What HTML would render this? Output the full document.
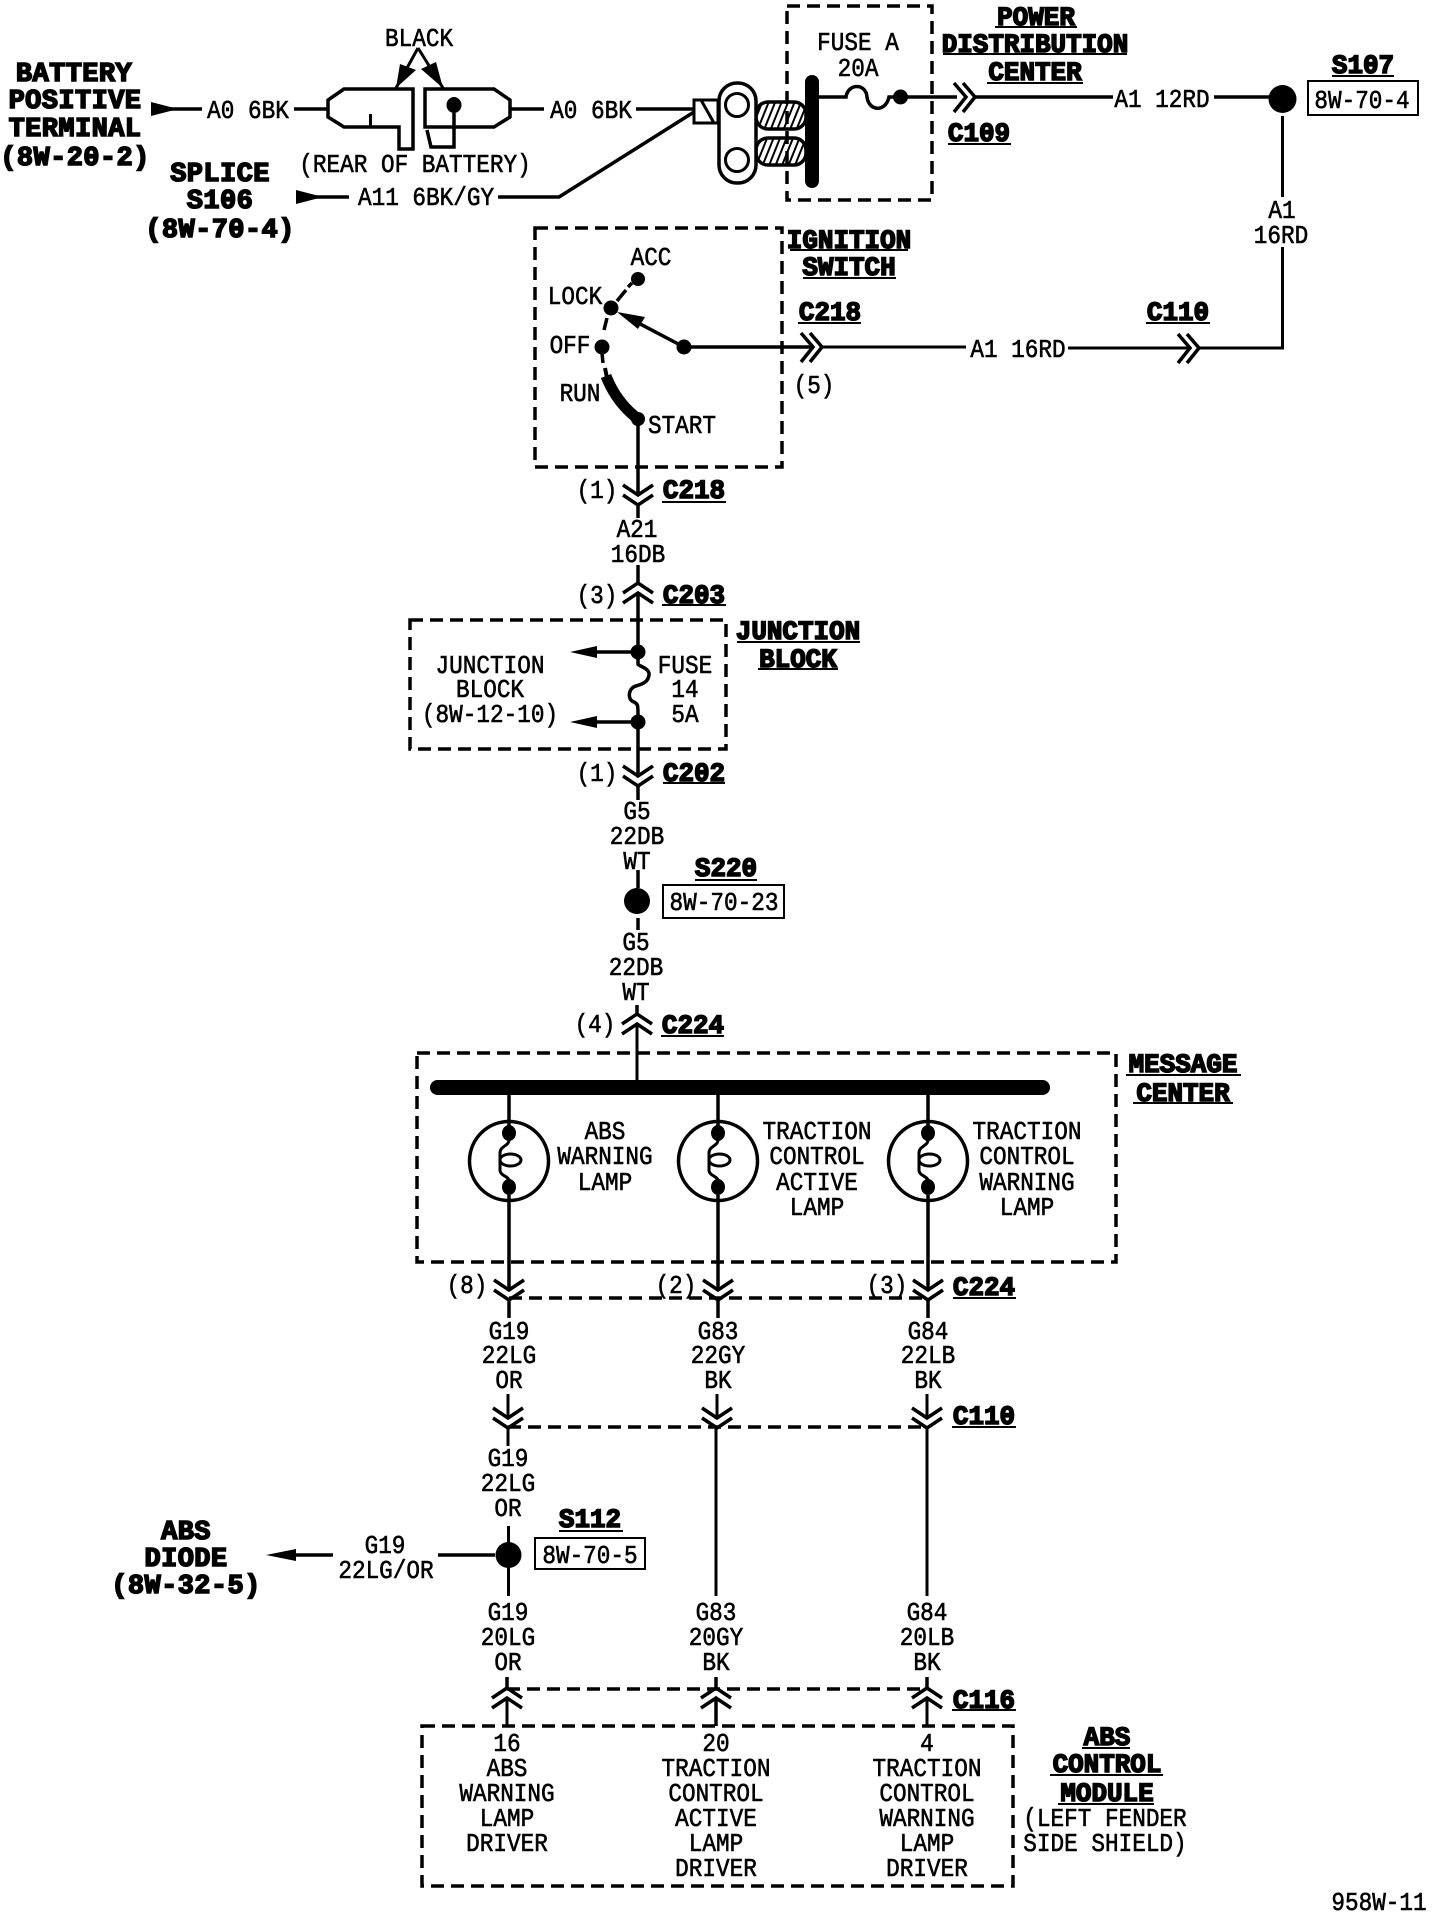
<!DOCTYPE html>
<html>
<head>
<meta charset="utf-8">
<title>Wiring diagram</title>
<style>
html,body{margin:0;padding:0;background:#fff}
svg{display:block}
text{font-family:"Liberation Mono",monospace;fill:#000;text-anchor:middle}
.t{font-size:25.5px;stroke:#000;stroke-width:.6px;transform-box:fill-box;transform-origin:center;transform:scaleX(.89)}
.b{font-size:27px;font-weight:bold;stroke:#000;stroke-width:1.6px;transform-box:fill-box;transform-origin:center;transform:scaleX(.96)}
.w{font-size:27px;font-weight:bold;letter-spacing:.4px;stroke:#000;stroke-width:1.6px}
.l{stroke:#000;stroke-width:3.5;fill:none}
.n{stroke:#000;stroke-width:3;fill:none}
.u{stroke:#000;stroke-width:2;fill:none}
.d{stroke:#000;stroke-width:3.5;fill:none;stroke-dasharray:13 7}
</style>
</head>
<body>
<svg width="1440" height="1918" viewBox="0 0 1440 1918" xmlns="http://www.w3.org/2000/svg">
<defs>
<pattern id="h" width="6" height="6" patternUnits="userSpaceOnUse" patternTransform="rotate(22)"><rect width="2" height="6" fill="#000"/></pattern>
<g id="dn" class="n"><path d="M-15 -10L0 0L15 -10M-15 0L0 10L15 0" stroke="#000" stroke-width="3.5" fill="none"/></g>
<g id="up"><path d="M-15 0L0 -10L15 0M-15 10L0 0L15 10" stroke="#000" stroke-width="3.5" fill="none"/></g>
<g id="rt"><path d="M-12 -14L0 0L-12 15M-3 -14L9 0L-3 15" stroke="#000" stroke-width="3.5" fill="none"/></g>
<g id="lamp">
<circle cx="0" cy="1161" r="39.5" fill="#fff" stroke="#000" stroke-width="3.5"/>
<line x1="0" y1="1095" x2="0" y2="1133" class="l"/>
<ellipse cx="0" cy="1133" rx="7" ry="8"/>
<ellipse cx="0" cy="1187" rx="7" ry="8"/>
<path d="M0 1140C0 1146 -9 1146 -9 1153V1170C-9 1176 0 1176 0 1181" class="n"/>
<ellipse cx="1.5" cy="1160" rx="10.5" ry="6" class="n"/>
</g>
</defs>
<rect width="1440" height="1918" fill="#fff"/>

<!-- dashed boxes -->
<rect x="787" y="6" width="145" height="194" class="d"/>
<rect x="535" y="228" width="247" height="239" class="d"/>
<rect x="410" y="620" width="316" height="129" class="d"/>
<rect x="417" y="1053" width="699" height="209" class="d"/>
<rect x="422" y="1726" width="591" height="160" class="d"/>
<line x1="509" y1="1298" x2="928" y2="1298" class="d"/>
<line x1="508" y1="1427" x2="927" y2="1427" class="d"/>
<line x1="507" y1="1689" x2="927" y2="1689" class="d"/>

<!-- battery terminal -->
<path d="M344 89L328 100V117L344 127H399V149H413V89Z" class="l"/>
<line x1="370.5" y1="114" x2="370.5" y2="127" class="n"/>
<path d="M425 89H494L510 100V117L494 127H425Z" class="l"/>
<path d="M427 130L431 147H454V113" class="l"/>
<ellipse cx="454" cy="105" rx="7.5" ry="8"/>
<path d="M418 48L396 88M418 48L443 88" class="n"/>
<polygon points="396,88 400,64 416,70"/>
<polygon points="443,88 421,69 436,62"/>
<line x1="294" y1="109" x2="328" y2="109" class="l"/>
<line x1="510" y1="109" x2="544" y2="109" class="l"/>
<polygon points="151,102 151,116 178,109"/>
<line x1="165" y1="109" x2="202" y2="109" class="l"/>
<polygon points="296,190 296,204 323,197"/>
<line x1="310" y1="197" x2="349" y2="197" class="l"/>
<line x1="636" y1="109" x2="694" y2="109" class="l"/>
<path d="M498 197H559L694 112" class="l"/>
<rect x="694" y="100" width="24" height="23" class="n"/>
<line x1="701" y1="100" x2="714" y2="123" class="n"/>

<!-- lug, studs, plate -->
<rect x="756" y="102" width="50" height="27" rx="12" fill="url(#h)" stroke="#000" stroke-width="3.5"/>
<rect x="756" y="138" width="50" height="27" rx="12" fill="url(#h)" stroke="#000" stroke-width="3.5"/>
<rect x="719" y="83" width="37" height="100" rx="18" fill="#fff" stroke="#000" stroke-width="3.5"/>
<circle cx="737" cy="105" r="11.5" fill="#fff" stroke="#000" stroke-width="3"/>
<circle cx="737" cy="160" r="11.5" fill="#fff" stroke="#000" stroke-width="3"/>
<rect x="805" y="75" width="14" height="113" rx="7"/>

<!-- fuse A & top wire -->
<path d="M819 97H846C848 83 866 83 867 97C869 112 886 112 889 97H957" class="l"/>
<circle cx="900.5" cy="97" r="7.5"/>
<use href="#rt" x="966" y="97"/>
<line x1="975" y1="97" x2="1113" y2="97" class="l"/>
<line x1="1214" y1="97" x2="1270" y2="97" class="l"/>
<circle cx="1282.5" cy="99" r="14"/>
<rect x="1308" y="81" width="110" height="34" class="u"/>
<line x1="1282.5" y1="116" x2="1282.5" y2="197" class="n"/>
<path d="M1282.5 247V348H1200" class="n"/>

<!-- ignition switch -->
<circle cx="638" cy="279" r="7"/>
<circle cx="611" cy="308" r="7.5"/>
<circle cx="602" cy="347" r="7.5"/>
<path d="M617 301L626 290M628 287L632 283M607 318L604 330M602 353L603 363" class="l"/>
<path d="M606 376Q616 402 638 419" stroke="#000" stroke-width="11" fill="none"/>
<path d="M605 368L607 378" stroke="#000" stroke-width="4" fill="none"/>
<circle cx="638" cy="419" r="7"/>
<circle cx="684" cy="347" r="7.5"/>
<line x1="684" y1="347" x2="625" y2="316" class="l"/>
<polygon points="617,312 645,317 638,329"/>
<line x1="684" y1="347" x2="813" y2="347" class="l"/>
<use href="#rt" x="813" y="347"/>
<line x1="822" y1="347" x2="966" y2="347" class="n"/>
<line x1="1068" y1="348" x2="1190" y2="348" class="n"/>
<use href="#rt" x="1190" y="348"/>

<!-- centre trunk -->
<line x1="638" y1="419" x2="638" y2="495" class="l"/>
<use href="#dn" x="638" y="495"/>
<line x1="638" y1="505" x2="638" y2="518" class="l"/>
<line x1="638" y1="565" x2="638" y2="583" class="l"/>
<use href="#up" x="638" y="593"/>
<line x1="638" y1="593" x2="638" y2="660" class="l"/>
<circle cx="638" cy="652" r="7.5"/>
<path d="M638 658V664C638 666 650 668 649 675C648 684 638 685 636 686C628 688 627 700 634 702C638 704 638 705 638 716" class="l"/>
<circle cx="638" cy="722" r="7.5"/>
<line x1="597" y1="652" x2="638" y2="652" class="l"/>
<polygon points="570,652 597,646 597,658"/>
<line x1="597" y1="722" x2="638" y2="722" class="l"/>
<polygon points="570,722 597,716 597,728"/>
<line x1="638" y1="722" x2="638" y2="776" class="l"/>
<use href="#dn" x="638" y="776"/>
<line x1="638" y1="786" x2="638" y2="800" class="l"/>
<line x1="638" y1="870" x2="638" y2="888" class="l"/>
<circle cx="637" cy="901" r="13"/>
<line x1="638" y1="918" x2="638" y2="930" class="l"/>
<rect x="663" y="885" width="121" height="33" class="u"/>
<line x1="637" y1="1005" x2="637" y2="1014" class="l"/>
<use href="#up" x="637" y="1024"/>
<line x1="637" y1="1024" x2="637" y2="1082" class="n"/>

<!-- bus & lamps -->
<rect x="430" y="1080" width="620" height="15" rx="7.5"/>
<use href="#lamp" x="509"/>
<use href="#lamp" x="718"/>
<use href="#lamp" x="928"/>
<line x1="509" y1="1195" x2="509" y2="1290" class="l"/>
<line x1="718" y1="1195" x2="718" y2="1290" class="l"/>
<line x1="928" y1="1195" x2="928" y2="1290" class="l"/>
<use href="#dn" x="509" y="1290"/>
<use href="#dn" x="718" y="1290"/>
<use href="#dn" x="928" y="1290"/>
<line x1="509" y1="1300" x2="509" y2="1318" class="l"/>
<line x1="718" y1="1300" x2="718" y2="1318" class="l"/>
<line x1="928" y1="1300" x2="928" y2="1318" class="l"/>

<!-- C110 -->
<line x1="508" y1="1394" x2="508" y2="1418" class="n"/>
<line x1="717" y1="1394" x2="717" y2="1418" class="n"/>
<line x1="927" y1="1394" x2="927" y2="1418" class="n"/>
<use href="#dn" x="508" y="1418"/>
<use href="#dn" x="717" y="1418"/>
<use href="#dn" x="927" y="1418"/>
<line x1="508" y1="1428" x2="508" y2="1446" class="n"/>
<line x1="716" y1="1428" x2="716" y2="1596" class="n"/>
<line x1="927" y1="1428" x2="927" y2="1596" class="n"/>

<!-- S112 -->
<line x1="508.5" y1="1526" x2="508.5" y2="1596" class="n"/>
<circle cx="508.5" cy="1555" r="13"/>
<rect x="535" y="1538" width="110" height="31" class="u"/>
<line x1="438" y1="1555" x2="495" y2="1555" class="l"/>
<line x1="290" y1="1555" x2="333" y2="1555" class="l"/>
<polygon points="266,1555 296,1549 296,1561"/>

<!-- C116 -->
<line x1="507" y1="1677" x2="507" y2="1688" class="l"/>
<line x1="716" y1="1677" x2="716" y2="1688" class="l"/>
<line x1="927" y1="1677" x2="927" y2="1688" class="l"/>
<use href="#up" x="507" y="1698"/>
<use href="#up" x="716" y="1698"/>
<use href="#up" x="927" y="1698"/>
<line x1="507" y1="1698" x2="507" y2="1726" class="n"/>
<line x1="716" y1="1698" x2="716" y2="1726" class="l"/>
<line x1="927" y1="1698" x2="927" y2="1726" class="n"/>

<!-- underlines -->
<path class="u" d="M995 27H1077M943 54H1127M987 83H1083M948 144H1011M1332 76H1394M790 250H908M803 278H896M798 323H861M1146 323H1210M662 502H726M662 605H726M663 783H725M737 642H860M758 669H838M695 880H757M661 1036H724M1126 1075H1241M1133 1103H1233M953 1298H1016M952 1427H1016M559 1531H623M952 1710H1016M1082 1748H1130M1050 1775H1163M1058 1804H1154"/>

<!-- bold labels -->
<text class="w" x="74" y="81">BATTERY</text>
<text class="w" x="75" y="108">POSITIVE</text>
<text class="w" x="75" y="136">TERMINAL</text>
<text class="w" x="75" y="165">(8W-20-2)</text>
<text class="w" x="220" y="181">SPLICE</text>
<text class="w" x="220" y="208">S106</text>
<text class="w" x="220" y="237">(8W-70-4)</text>
<text class="b" x="1036" y="25">POWER</text>
<text class="b" x="1035" y="52">DISTRIBUTION</text>
<text class="b" x="1035" y="80">CENTER</text>
<text class="b" x="979" y="141">C109</text>
<text class="b" x="1363" y="73">S107</text>
<text class="b" x="849" y="248">IGNITION</text>
<text class="b" x="849" y="275">SWITCH</text>
<text class="b" x="830" y="320">C218</text>
<text class="b" x="1178" y="320">C110</text>
<text class="b" x="694" y="498">C218</text>
<text class="b" x="694" y="603">C203</text>
<text class="b" x="798" y="639">JUNCTION</text>
<text class="b" x="798" y="667">BLOCK</text>
<text class="b" x="694" y="781">C202</text>
<text class="b" x="726" y="876">S220</text>
<text class="b" x="693" y="1033">C224</text>
<text class="b" x="1183" y="1072">MESSAGE</text>
<text class="b" x="1183" y="1101">CENTER</text>
<text class="b" x="984" y="1295">C224</text>
<text class="b" x="984" y="1424">C110</text>
<text class="b" x="590" y="1527">S112</text>
<text class="w" x="186" y="1539">ABS</text>
<text class="w" x="186" y="1566">DIODE</text>
<text class="w" x="186" y="1593">(8W-32-5)</text>
<text class="b" x="984" y="1708">C116</text>
<text class="b" x="1107" y="1745">ABS</text>
<text class="b" x="1107" y="1772">CONTROL</text>
<text class="b" x="1107" y="1801">MODULE</text>

<!-- regular labels -->
<text class="t" x="419" y="46">BLACK</text>
<text class="t" x="248" y="118">A0 6BK</text>
<text class="t" x="591" y="118">A0 6BK</text>
<text class="t" x="415" y="172">(REAR OF BATTERY)</text>
<text class="t" x="426" y="205">A11 6BK/GY</text>
<text class="t" x="858" y="50">FUSE A</text>
<text class="t" x="858" y="76">20A</text>
<text class="t" x="1162" y="107">A1 12RD</text>
<text class="t" x="1362" y="108">8W-70-4</text>
<text class="t" x="1282" y="218">A1</text>
<text class="t" x="1281" y="243">16RD</text>
<text class="t" x="651" y="265">ACC</text>
<text class="t" x="575" y="304">LOCK</text>
<text class="t" x="570" y="353">OFF</text>
<text class="t" x="580" y="401">RUN</text>
<text class="t" x="682" y="433">START</text>
<text class="t" x="814" y="393">(5)</text>
<text class="t" x="1018" y="357">A1 16RD</text>
<text class="t" x="597" y="498">(1)</text>
<text class="t" x="637" y="537">A21</text>
<text class="t" x="638" y="562">16DB</text>
<text class="t" x="597" y="603">(3)</text>
<text class="t" x="490" y="673">JUNCTION</text>
<text class="t" x="490" y="697">BLOCK</text>
<text class="t" x="490" y="722">(8W-12-10)</text>
<text class="t" x="685" y="673">FUSE</text>
<text class="t" x="685" y="697">14</text>
<text class="t" x="685" y="722">5A</text>
<text class="t" x="597" y="781">(1)</text>
<text class="t" x="637" y="819">G5</text>
<text class="t" x="637" y="844">22DB</text>
<text class="t" x="637" y="869">WT</text>
<text class="t" x="724" y="910">8W-70-23</text>
<text class="t" x="636" y="950">G5</text>
<text class="t" x="636" y="975">22DB</text>
<text class="t" x="636" y="1000">WT</text>
<text class="t" x="595" y="1032">(4)</text>
<text class="t" x="605" y="1139">ABS</text>
<text class="t" x="605" y="1164">WARNING</text>
<text class="t" x="605" y="1190">LAMP</text>
<text class="t" x="817" y="1139">TRACTION</text>
<text class="t" x="817" y="1164">CONTROL</text>
<text class="t" x="817" y="1190">ACTIVE</text>
<text class="t" x="817" y="1215">LAMP</text>
<text class="t" x="1027" y="1139">TRACTION</text>
<text class="t" x="1027" y="1164">CONTROL</text>
<text class="t" x="1027" y="1190">WARNING</text>
<text class="t" x="1027" y="1215">LAMP</text>
<text class="t" x="467" y="1293">(8)</text>
<text class="t" x="676" y="1293">(2)</text>
<text class="t" x="887" y="1293">(3)</text>
<text class="t" x="509" y="1339">G19</text>
<text class="t" x="509" y="1363">22LG</text>
<text class="t" x="509" y="1388">OR</text>
<text class="t" x="718" y="1339">G83</text>
<text class="t" x="718" y="1363">22GY</text>
<text class="t" x="718" y="1388">BK</text>
<text class="t" x="928" y="1339">G84</text>
<text class="t" x="928" y="1363">22LB</text>
<text class="t" x="928" y="1388">BK</text>
<text class="t" x="508" y="1466">G19</text>
<text class="t" x="508" y="1491">22LG</text>
<text class="t" x="508" y="1516">OR</text>
<text class="t" x="385" y="1553">G19</text>
<text class="t" x="386" y="1578">22LG/OR</text>
<text class="t" x="590" y="1563">8W-70-5</text>
<text class="t" x="508" y="1620">G19</text>
<text class="t" x="508" y="1645">20LG</text>
<text class="t" x="508" y="1670">OR</text>
<text class="t" x="716" y="1620">G83</text>
<text class="t" x="716" y="1645">20GY</text>
<text class="t" x="716" y="1670">BK</text>
<text class="t" x="927" y="1620">G84</text>
<text class="t" x="927" y="1645">20LB</text>
<text class="t" x="927" y="1670">BK</text>
<text class="t" x="507" y="1751">16</text>
<text class="t" x="507" y="1776">ABS</text>
<text class="t" x="507" y="1801">WARNING</text>
<text class="t" x="507" y="1826">LAMP</text>
<text class="t" x="507" y="1851">DRIVER</text>
<text class="t" x="716" y="1751">20</text>
<text class="t" x="716" y="1776">TRACTION</text>
<text class="t" x="716" y="1801">CONTROL</text>
<text class="t" x="716" y="1826">ACTIVE</text>
<text class="t" x="716" y="1851">LAMP</text>
<text class="t" x="716" y="1876">DRIVER</text>
<text class="t" x="927" y="1751">4</text>
<text class="t" x="927" y="1776">TRACTION</text>
<text class="t" x="927" y="1801">CONTROL</text>
<text class="t" x="927" y="1826">WARNING</text>
<text class="t" x="927" y="1851">LAMP</text>
<text class="t" x="927" y="1876">DRIVER</text>
<text class="t" x="1105" y="1826">(LEFT FENDER</text>
<text class="t" x="1105" y="1851">SIDE SHIELD)</text>
<text class="t" x="1379" y="1910">958W-11</text>
</svg>
</body>
</html>
